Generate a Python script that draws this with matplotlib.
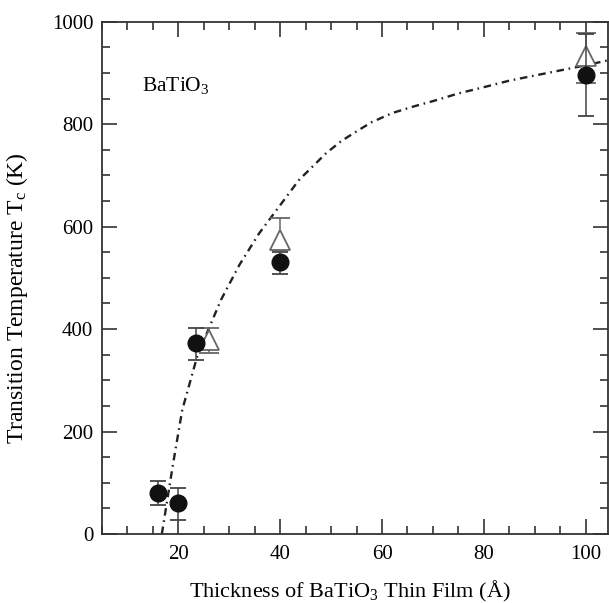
import matplotlib
matplotlib.use("Agg")
from matplotlib import pyplot as plt
from matplotlib.ticker import MultipleLocator

plt.rcParams["font.family"] = ["Liberation Serif", "DejaVu Serif"]
plt.rcParams["mathtext.fontset"] = "custom"
plt.rcParams["mathtext.rm"] = "Liberation Serif"
plt.rcParams["mathtext.it"] = "Liberation Serif:italic"

# filled circles
circ_x = [16, 20, 23.5, 40, 100]
circ_y = [80, 60, 372, 530, 896]
circ_lo = [24, 32, 32, 23, 80]
circ_hi = [24, 30, 30, 20, 80]

# open triangles
tri_x = [26, 40, 100]
tri_y = [378, 574, 933]
tri_lo = [25, 19, 53]
tri_hi = [25, 42, 45]

# dash-dot guide curve
fit_x = [16.8, 18.9, 20.8, 23.8, 28.4, 32, 35.9, 39.8, 43.7, 49, 52, 55.5, 58,
         62.1, 66, 70, 75, 80.3, 85, 90, 93.5, 100, 104.5]
fit_y = [0, 131, 242, 349, 457, 525, 587, 639, 691, 743, 767, 789, 804,
         822, 834, 845, 860, 873, 885, 895, 902, 915, 925]

fig = plt.figure(figsize=(6.09, 6.03), dpi=100)
ax = fig.add_axes([0.167, 0.1144, 0.831, 0.8496])

ax.plot(fit_x, fit_y, color="#222222", lw=1.7, linestyle=(0, (3.2, 2.0, 0.7, 2.0)), zorder=2)

ax.errorbar(tri_x, tri_y, yerr=[tri_lo, tri_hi], fmt="^", ms=15, mfc="white",
            mec="#666666", mew=1.3, ecolor="#666666", elinewidth=1.1, capsize=7,
            capthick=1.3, zorder=3)
ax.errorbar(circ_x, circ_y, yerr=[circ_lo, circ_hi], fmt="o", ms=12, mfc="#111111",
            mec="#111111", ecolor="#444444", elinewidth=1.1, capsize=6,
            capthick=1.3, zorder=4)

ax.text(12.9, 876, "BaTiO$_3$", fontsize=15.5, va="center", ha="left")

ax.set_xlim(5, 104.3)
ax.set_ylim(0, 1000)
ax.xaxis.set_major_locator(MultipleLocator(20))
ax.xaxis.set_minor_locator(MultipleLocator(5))
ax.yaxis.set_major_locator(MultipleLocator(200))
ax.yaxis.set_minor_locator(MultipleLocator(50))
ax.tick_params(which="both", direction="in", top=True, right=True,
               color="#333333", width=1.2, labelsize=15)
ax.tick_params(which="major", length=11)
ax.tick_params(which="minor", length=6)
ax.tick_params(axis="x", which="major", pad=8)
ax.tick_params(axis="y", which="major", pad=6)
for s in ax.spines.values():
    s.set_color("#333333")
    s.set_linewidth(1.3)

ax.set_xlabel("Thickness of BaTiO$_3$ Thin Film (Å)", fontsize=16)
ax.set_ylabel("Transition Temperature T$_\\mathrm{c}$ (K)", fontsize=17)
ax.xaxis.set_label_coords(0.49, -0.088)
ax.yaxis.set_label_coords(-0.142, 0.46)

fig.savefig("out.png", dpi=100)
